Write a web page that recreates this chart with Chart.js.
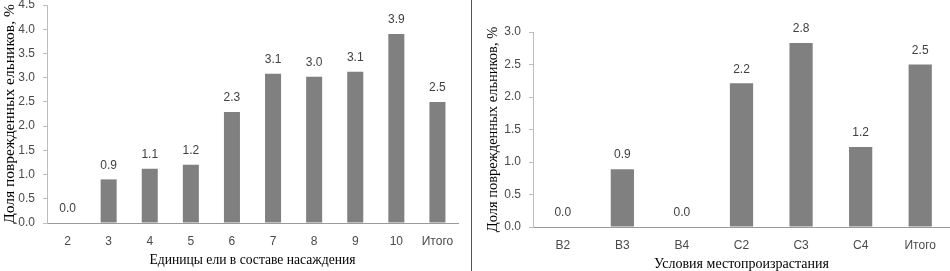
<!DOCTYPE html>
<html>
<head>
<meta charset="utf-8">
<script src="https://cdn.jsdelivr.net/npm/chart.js@4/dist/chart.umd.min.js"></script>
<style>
  html, body { margin: 0; padding: 0; background: #fff; width: 950px; height: 271px; overflow: hidden; }
  .wrap { position: absolute; }
  #divider { position: absolute; left: 471px; top: 0; width: 1px; height: 271px; background: #555; }
</style>
</head>
<body>
<div class="wrap" id="w1" style="left:0; top:-12px; width:471px; height:283px;"><canvas id="c1"></canvas></div>
<div id="divider"></div>
<div class="wrap" id="w2" style="left:474px; top:0; width:476px; height:271px;"><canvas id="c2"></canvas></div>
<script>
// ---- Data ----
const leftCategories = ['2', '3', '4', '5', '6', '7', '8', '9', '10', 'Итого'];
const leftValues = [0.0, 0.9, 1.12, 1.2, 2.29, 3.08, 3.02, 3.12, 3.9, 2.5];
const leftXTitle = 'Единицы ели в составе насаждения';

const rightCategories = ['B2', 'B3', 'B4', 'C2', 'C3', 'C4', 'Итого'];
const rightValues = [0.0, 0.89, 0.0, 2.21, 2.83, 1.23, 2.5];
const rightXTitle = 'Условия местопроизрастания';

const yTitle = 'Доля поврежденных ельников, %';

// ---- Styling ----
const BAR = '#808080';
const TICK_FONT = { family: "'Liberation Sans', Arial, sans-serif", size: 12 };
const SERIF = "'Liberation Serif', 'Times New Roman', serif";
const TICK_COLOR = '#4a4a4a';

const valueLabels = {
  id: 'valueLabels',
  afterDatasetsDraw(chart) {
    const ctx = chart.ctx;
    ctx.save();
    ctx.font = "12px 'Liberation Sans', Arial, sans-serif";
    ctx.fillStyle = '#404040';
    ctx.textAlign = 'center';
    ctx.textBaseline = 'middle';
    chart.data.datasets.forEach((ds, di) => {
      chart.getDatasetMeta(di).data.forEach((el, i) => {
        ctx.fillText(Number(ds.data[i]).toFixed(1), el.x, el.y - 14);
      });
    });
    ctx.restore();
  }
};

function makeChart(id, cats, vals, xTitle, opts) {
  return new Chart(document.getElementById(id), {
    type: 'bar',
    data: {
      labels: cats,
      datasets: [{ data: vals, backgroundColor: BAR, borderWidth: 0,
                   barPercentage: 0.39, categoryPercentage: 1.0 }]
    },
    options: {
      responsive: true,
      maintainAspectRatio: false,
      animation: false,
      events: [],
      layout: { padding: { top: opts.padTop, right: opts.padRight, left: 0, bottom: 0 } },
      plugins: { legend: { display: false }, tooltip: { enabled: false } },
      scales: {
        x: {
          grid: { display: false, drawTicks: false },
          border: { display: true, color: '#9a9a9a', width: 1 },
          ticks: { font: TICK_FONT, color: TICK_COLOR, padding: 11, maxRotation: 0, autoSkip: false },
          title: { display: true, text: xTitle, font: { family: SERIF, size: opts.xTitleSize, lineHeight: 1 }, color: '#000',
                   padding: { top: 0, bottom: opts.xTitlePad } },
          afterFit(scale) { scale.height = opts.xHeight; }
        },
        y: {
          min: 0, max: opts.yMax,
          grid: { display: true, drawOnChartArea: false, drawTicks: true, tickLength: 4, color: '#bdbdbd' },
          border: { display: true, color: '#bdbdbd', width: 1 },
          ticks: { stepSize: 0.5, font: TICK_FONT, color: TICK_COLOR, padding: 8,
                   callback: v => Number(v).toFixed(1) },
          title: { display: true, text: yTitle, font: { family: SERIF, size: opts.yTitleSize, lineHeight: 1 }, color: '#000',
                   padding: { top: opts.yTitlePad, bottom: 0 } },
          afterFit(scale) { scale.width = opts.yWidth; }
        }
      }
    },
    plugins: [valueLabels]
  });
}

makeChart('c1', leftCategories, leftValues, leftXTitle,
  { padTop: 17, padRight: 13, yMax: 4.5, xHeight: 48, yWidth: 47, xTitlePad: 4, yTitlePad: 2,
    xTitleSize: 13.6, yTitleSize: 15.5 });
makeChart('c2', rightCategories, rightValues, rightXTitle,
  { padTop: 32, padRight: 0, yMax: 3.0, xHeight: 44, yWidth: 59, xTitlePad: 0, yTitlePad: 12,
    xTitleSize: 14, yTitleSize: 14.5 });
</script>
</body>
</html>
